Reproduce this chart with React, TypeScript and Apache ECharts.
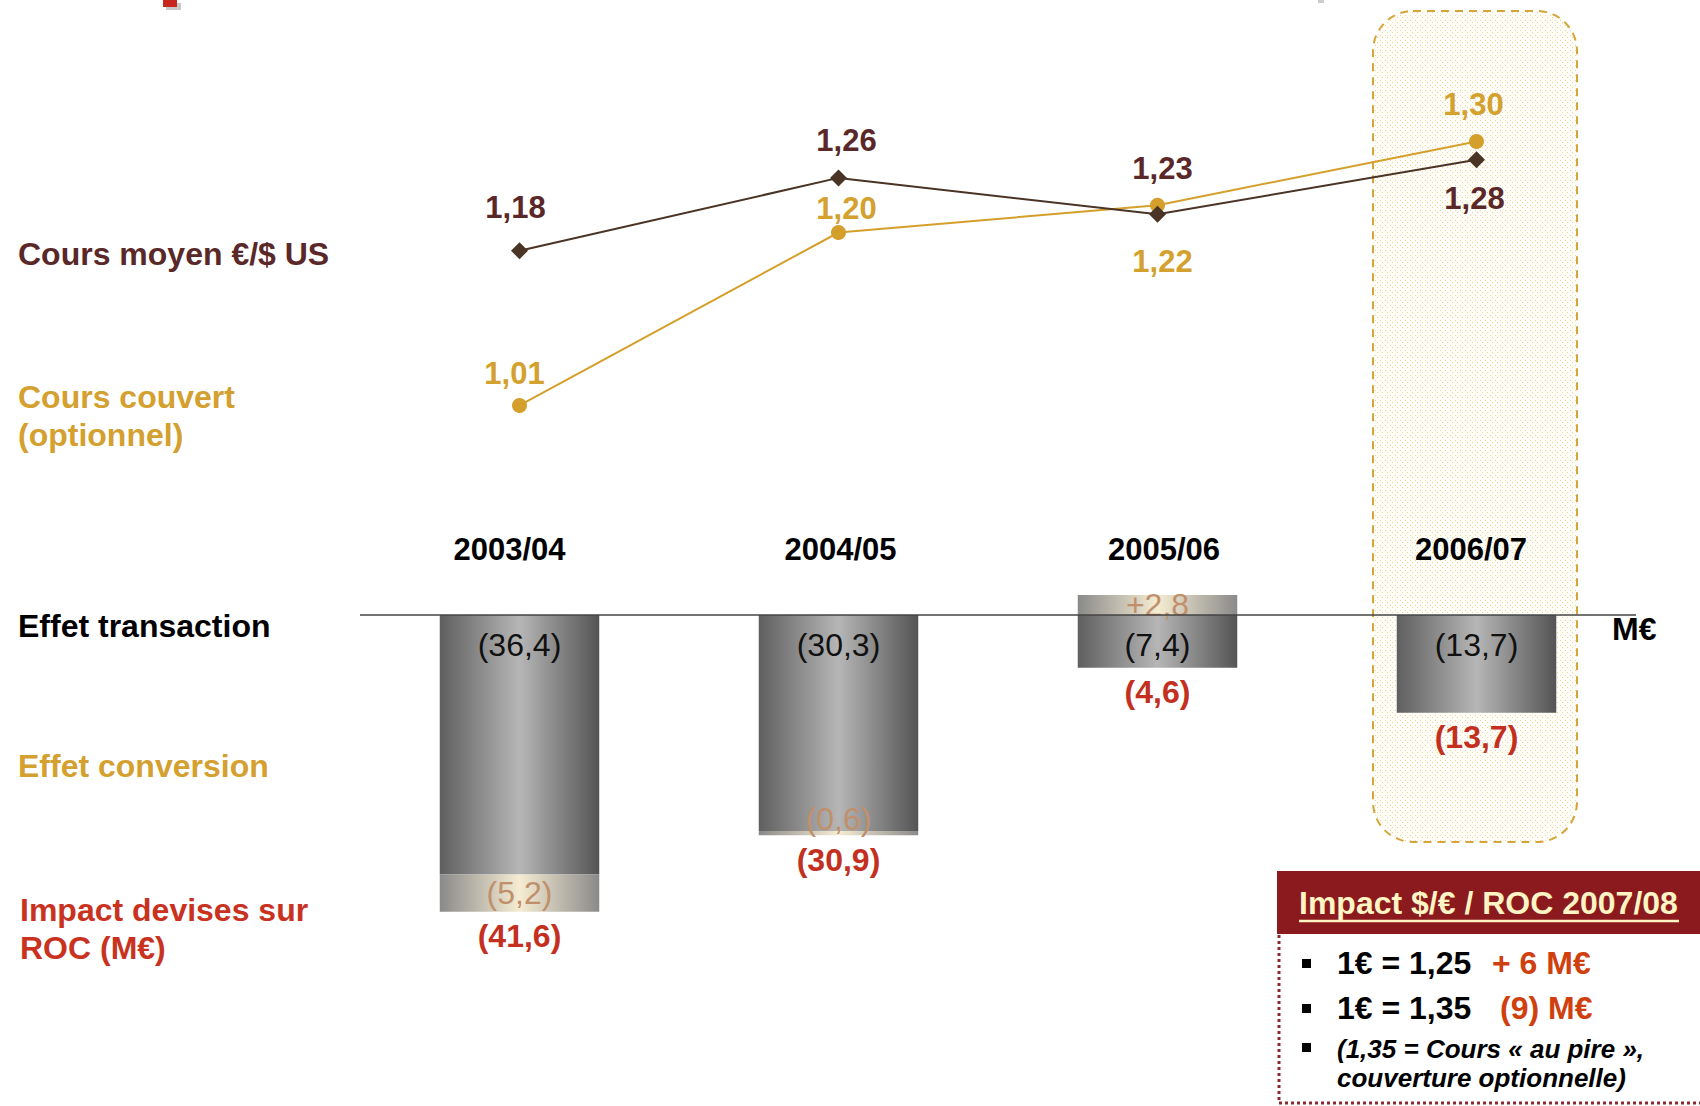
import React, { useEffect, useRef } from 'react';
import * as echarts from 'echarts';

const categories = ['2003/04', '2004/05', '2005/06', '2006/07'];
const coursMoyen = [1.18, 1.26, 1.22, 1.28];
const coursMoyenLabels = ['1,18', '1,26', '1,23', '1,28'];
const coursCouvert = [1.01, 1.2, 1.23, 1.3];
const coursCouvertLabels = ['1,01', '1,20', '1,22', '1,30'];
const effetTransaction = [-36.4, -30.3, -7.4, -13.7];
const effetConversion = [-5.2, -0.6, 2.8, 0];
const impactTotal = [-41.6, -30.9, -4.6, -13.7];

const FONT = '"Liberation Sans", Arial, Helvetica, sans-serif';

const fmt = (v: number) => {
  const s = Math.abs(v).toFixed(1).replace('.', ',');
  return v < 0 ? `(${s})` : `+${s}`;
};

// label offsets / paddings (style only)
const brownOffsets = [[-4, -43], [8, -37], [5, -46], [-2, 39]];
const goldOffsets = [[-5, -32], [8, -24], [5, 56], [-3, -37]];
const yearPadding = [[0, 20, 0, 0], [0, 0, 0, 4], [0, 0, 0, 13], [0, 11, 0, 0]];

export default function App() {
  const ref = useRef<HTMLDivElement>(null);
  useEffect(() => {
    if (!ref.current) return;
    const chart = echarts.init(ref.current, null, { renderer: 'svg' });

    const pat = document.createElement('canvas');
    pat.width = 5;
    pat.height = 5;
    const ctx = pat.getContext('2d');
    if (ctx) {
      ctx.fillStyle = '#fffdf8';
      ctx.fillRect(0, 0, 5, 5);
      ctx.fillStyle = '#ecd6a0';
      ctx.fillRect(0, 0, 1, 1);
      ctx.fillRect(2, 2, 1, 1);
    }

    const bottoms = effetTransaction.map((t, i) => t + Math.min(effetConversion[i], 0));

    const barGrad = new echarts.graphic.LinearGradient(0, 0, 1, 0, [
      { offset: 0, color: '#5f5f5f' },
      { offset: 0.5, color: '#b6b6b6' },
      { offset: 1, color: '#545454' },
    ]);
    const convGrad = new echarts.graphic.LinearGradient(0, 0, 1, 0, [
      { offset: 0, color: '#8a8a8a' },
      { offset: 0.5, color: '#f6ecd2' },
      { offset: 1, color: '#8a8a8a' },
    ]);

    const textEl = (text: string, x: number, y: number, fill: string, size = 32, weight = 'bold', style = 'normal') => ({
      type: 'text',
      x,
      y,
      z: 10,
      style: {
        text,
        fill,
        fontSize: size,
        fontWeight: weight,
        fontStyle: style,
        fontFamily: FONT,
        align: 'left',
        verticalAlign: 'middle',
      },
    });

    const option: any = {
      animation: false,
      backgroundColor: '#ffffff',
      grid: [
        { left: 360, width: 1276, top: 50.5, height: 455 },
        { left: 360, width: 1276, top: 579.35, height: 392.2 },
      ],
      xAxis: [
        { gridIndex: 0, type: 'category', data: categories, show: false },
        {
          gridIndex: 1,
          type: 'category',
          data: categories.map((c, i) => ({ value: c, textStyle: { padding: yearPadding[i] } })),
          position: 'top',
          axisLine: { show: false, onZero: false },
          axisTick: { show: false },
          splitLine: { show: false },
          axisLabel: { fontSize: 31, fontWeight: 'bold', color: '#000', margin: 14, fontFamily: FONT },
        },
      ],
      yAxis: [
        { gridIndex: 0, type: 'value', min: 0.9, max: 1.4, show: false },
        { gridIndex: 1, type: 'value', min: -50, max: 5, show: false },
      ],
      graphic: [
        {
          type: 'rect',
          z: -5,
          shape: { x: 1373, y: 11, width: 204, height: 831, r: 40 },
          style: { fill: { image: pat, repeat: 'repeat' }, stroke: '#d6a53a', lineWidth: 2, lineDash: [8, 6] },
        },
        { type: 'rect', z: 1, shape: { x: 166, y: 3, width: 15, height: 7 }, style: { fill: '#c9c9c9' } },
        { type: 'rect', z: 2, shape: { x: 163, y: 0, width: 14, height: 7 }, style: { fill: '#c8281c' } },
        { type: 'rect', z: 1, shape: { x: 1318, y: 0, width: 6, height: 3 }, style: { fill: '#cccccc' } },
        textEl('Cours moyen €/$ US', 18, 254, '#5a2828'),
        textEl('Cours couvert', 18, 397, '#d4a030'),
        textEl('(optionnel)', 18, 435, '#d4a030'),
        textEl('Effet transaction', 18, 626, '#000000'),
        textEl('Effet conversion', 18, 766, '#d4a030'),
        textEl('Impact devises sur', 20, 910, '#c8321f'),
        textEl('ROC (M€)', 20, 948, '#c8321f'),
        textEl('M€', 1612, 629, '#000000'),
        // box
        { type: 'rect', z: 5, shape: { x: 1277, y: 871, width: 423, height: 63 }, style: { fill: '#8b1a1e' } },
        textEl('Impact $/€ / ROC 2007/08', 1299, 903, '#fff4c4'),
        {
          type: 'line',
          z: 10,
          shape: { x1: 1299, y1: 921, x2: 1679, y2: 921 },
          style: { stroke: '#fff4c4', lineWidth: 2.5 },
        },
        {
          type: 'polyline',
          z: 5,
          shape: { points: [[1279, 935], [1279, 1103], [1700, 1103]] },
          style: { stroke: '#8b2a30', lineWidth: 3, lineDash: [3, 3], fill: 'none' },
        },
        { type: 'rect', z: 10, shape: { x: 1302, y: 959, width: 9, height: 9 }, style: { fill: '#000' } },
        { type: 'rect', z: 10, shape: { x: 1302, y: 1004, width: 9, height: 9 }, style: { fill: '#000' } },
        { type: 'rect', z: 10, shape: { x: 1302, y: 1043, width: 9, height: 9 }, style: { fill: '#000' } },
        textEl('1€ = 1,25', 1337, 963, '#000000'),
        textEl('+ 6 M€', 1492, 963, '#d0400f'),
        textEl('1€ = 1,35', 1337, 1008, '#000000'),
        textEl('(9) M€', 1500, 1008, '#d0400f'),
        textEl('(1,35 = Cours « au pire »,', 1337, 1049, '#000000', 26, 'bold', 'italic'),
        textEl('couverture optionnelle)', 1337, 1078, '#000000', 26, 'bold', 'italic'),
      ],
      series: [
        {
          name: 'Cours moyen €/$ US',
          type: 'line',
          xAxisIndex: 0,
          yAxisIndex: 0,
          z: 4,
          data: coursMoyen.map((v, i) => ({ value: v, label: { offset: brownOffsets[i] } })),
          symbol: 'diamond',
          symbolSize: 17,
          itemStyle: { color: '#4a3426' },
          lineStyle: { color: '#4a3426', width: 2 },
          label: {
            show: true,
            position: 'inside',
            formatter: (p: any) => coursMoyenLabels[p.dataIndex],
            color: '#5a2828',
            fontSize: 31,
            fontWeight: 'bold',
            fontFamily: FONT,
          },
        },
        {
          name: 'Cours couvert (optionnel)',
          type: 'line',
          xAxisIndex: 0,
          yAxisIndex: 0,
          z: 3,
          data: coursCouvert.map((v, i) => ({ value: v, label: { offset: goldOffsets[i] } })),
          symbol: 'circle',
          symbolSize: 15,
          itemStyle: { color: '#d49f2a' },
          lineStyle: { color: '#d49f2a', width: 2 },
          label: {
            show: true,
            position: 'inside',
            formatter: (p: any) => coursCouvertLabels[p.dataIndex],
            color: '#d4a02e',
            fontSize: 31,
            fontWeight: 'bold',
            fontFamily: FONT,
          },
        },
        {
          name: 'Effet transaction',
          type: 'bar',
          xAxisIndex: 1,
          yAxisIndex: 1,
          stack: 'roc',
          barWidth: '50%',
          data: effetTransaction,
          itemStyle: { color: barGrad },
          label: {
            show: true,
            position: 'insideTop',
            distance: 14,
            formatter: (p: any) => fmt(p.value),
            color: '#111111',
            fontSize: 32,
            fontFamily: FONT,
          },
          markLine: {
            silent: true,
            symbol: ['none', 'none'],
            label: { show: false },
            lineStyle: { color: '#444444', width: 1.5, type: 'solid' },
            data: [{ yAxis: 0 }],
          },
        },
        {
          name: 'Effet conversion',
          type: 'bar',
          xAxisIndex: 1,
          yAxisIndex: 1,
          stack: 'roc',
          barWidth: '50%',
          data: effetConversion.map((v) => ({
            value: v,
            label: { show: v !== 0, position: Math.abs(v) < 1 ? 'insideBottom' : 'inside', distance: 0 },
          })),
          itemStyle: { color: convGrad },
          label: {
            show: true,
            formatter: (p: any) => fmt(p.value),
            color: '#c0906c',
            fontSize: 32,
            fontFamily: FONT,
          },
        },
        {
          name: 'Impact devises sur ROC (M€)',
          type: 'scatter',
          xAxisIndex: 1,
          yAxisIndex: 1,
          z: 6,
          data: bottoms,
          symbolSize: 1,
          itemStyle: { color: 'transparent', opacity: 1 },
          label: {
            show: true,
            position: 'bottom',
            distance: 8,
            formatter: (p: any) => fmt(impactTotal[p.dataIndex]),
            color: '#c3301f',
            opacity: 1,
            fontSize: 32,
            fontWeight: 'bold',
            fontFamily: FONT,
          },
        },
      ],
    };

    chart.setOption(option);
    return () => chart.dispose();
  }, []);

  return (
    <div
      ref={ref}
      style={{ position: 'fixed', left: 0, top: 0, width: 1700, height: 1106, background: '#fff' }}
    />
  );
}
